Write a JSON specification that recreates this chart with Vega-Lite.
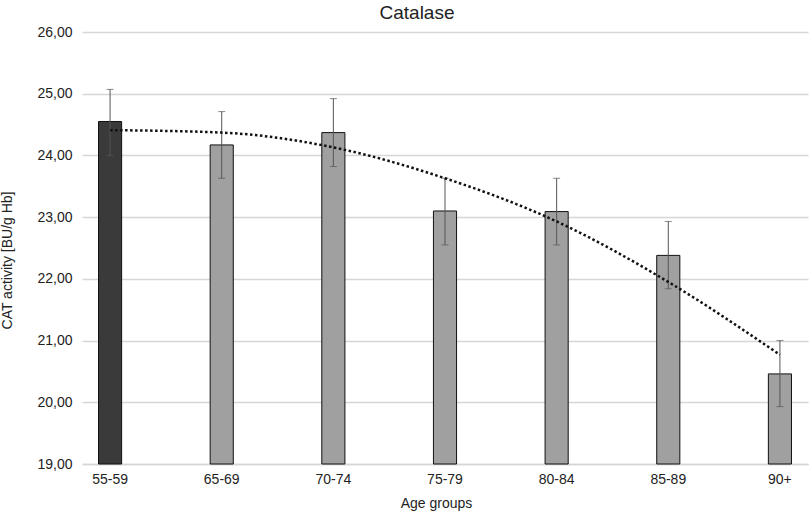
{
  "$schema": "https://vega.github.io/schema/vega-lite/v6.json",
  "width": 726,
  "height": 432,
  "autosize": "none",
  "padding": {"left": 82, "top": 32, "right": 2, "bottom": 50},
  "background": "white",
  "title": {"text": "Catalase", "fontSize": 19, "fontWeight": "normal", "font": "Liberation Sans", "color": "#222", "offset": 2, "dx": -28},
  "config": {
    "locale": {"number": {"decimal": ",", "thousands": ".", "grouping": [3], "currency": ["", " €"]}},
    "view": {"stroke": null},
    "font": "Liberation Sans"
  },
  "data": {
    "values": [
      {"group": "55-59", "mean": 24.55, "lo": 24.0, "hi": 25.07, "trend": 24.41, "ref": "yes"},
      {"group": "65-69", "mean": 24.17, "lo": 23.63, "hi": 24.71, "trend": 24.37, "ref": "no"},
      {"group": "70-74", "mean": 24.37, "lo": 23.82, "hi": 24.92, "trend": 24.13, "ref": "no"},
      {"group": "75-79", "mean": 23.10, "lo": 22.55, "hi": 23.63, "trend": 23.63, "ref": "no"},
      {"group": "80-84", "mean": 23.09, "lo": 22.55, "hi": 23.63, "trend": 22.93, "ref": "no"},
      {"group": "85-89", "mean": 22.38, "lo": 21.84, "hi": 22.93, "trend": 21.95, "ref": "no"},
      {"group": "90+", "mean": 20.46, "lo": 19.93, "hi": 21.00, "trend": 20.77, "ref": "no"}
    ]
  },
  "encoding": {
    "x": {
      "field": "group", "type": "nominal", "sort": null,
      "scale": {"paddingInner": 0.793, "paddingOuter": 0.148},
      "axis": {
        "title": "Age groups", "titleFontSize": 14, "titleFontWeight": "normal", "titleColor": "#222",
        "titleX": 354, "titleY": 32,
        "labelAngle": 0, "labelFontSize": 14, "labelColor": "#222", "labelPadding": 8,
        "ticks": false, "domain": true, "domainColor": "#d6d6d6", "domainWidth": 1.5
      }
    }
  },
  "layer": [
    {
      "mark": {"type": "bar", "stroke": "#111", "strokeWidth": 1},
      "encoding": {
        "y": {
          "field": "mean", "type": "quantitative",
          "scale": {"domain": [19, 26], "zero": false, "nice": false},
          "axis": {
            "title": "CAT activity [BU/g Hb]", "titleFontSize": 14, "titleFontWeight": "normal", "titleColor": "#222",
            "titleY": 228,
            "format": ".2f", "values": [19, 20, 21, 22, 23, 24, 25, 26],
            "labelFontSize": 14, "labelColor": "#222", "labelPadding": 10,
            "ticks": false, "domain": false, "gridColor": "#d6d6d6", "gridWidth": 1.5,
            "titlePadding": 22
          }
        },
        "y2": {"datum": 19},
        "fill": {
          "field": "ref", "type": "nominal",
          "scale": {"domain": ["yes", "no"], "range": ["#3a3a3a", "#a0a0a0"]},
          "legend": null
        }
      }
    },
    {
      "mark": {"type": "rule", "color": "#555", "strokeWidth": 1},
      "encoding": {
        "y": {"field": "lo", "type": "quantitative"},
        "y2": {"field": "hi"}
      }
    },
    {
      "mark": {"type": "tick", "color": "#555", "thickness": 1, "size": 7},
      "encoding": {"y": {"field": "lo", "type": "quantitative"}}
    },
    {
      "mark": {"type": "tick", "color": "#555", "thickness": 1, "size": 7},
      "encoding": {"y": {"field": "hi", "type": "quantitative"}}
    },
    {
      "mark": {"type": "line", "color": "#111", "strokeWidth": 2.5, "strokeDash": [2.5, 2.5], "interpolate": "monotone"},
      "encoding": {"y": {"field": "trend", "type": "quantitative"}}
    }
  ]
}
